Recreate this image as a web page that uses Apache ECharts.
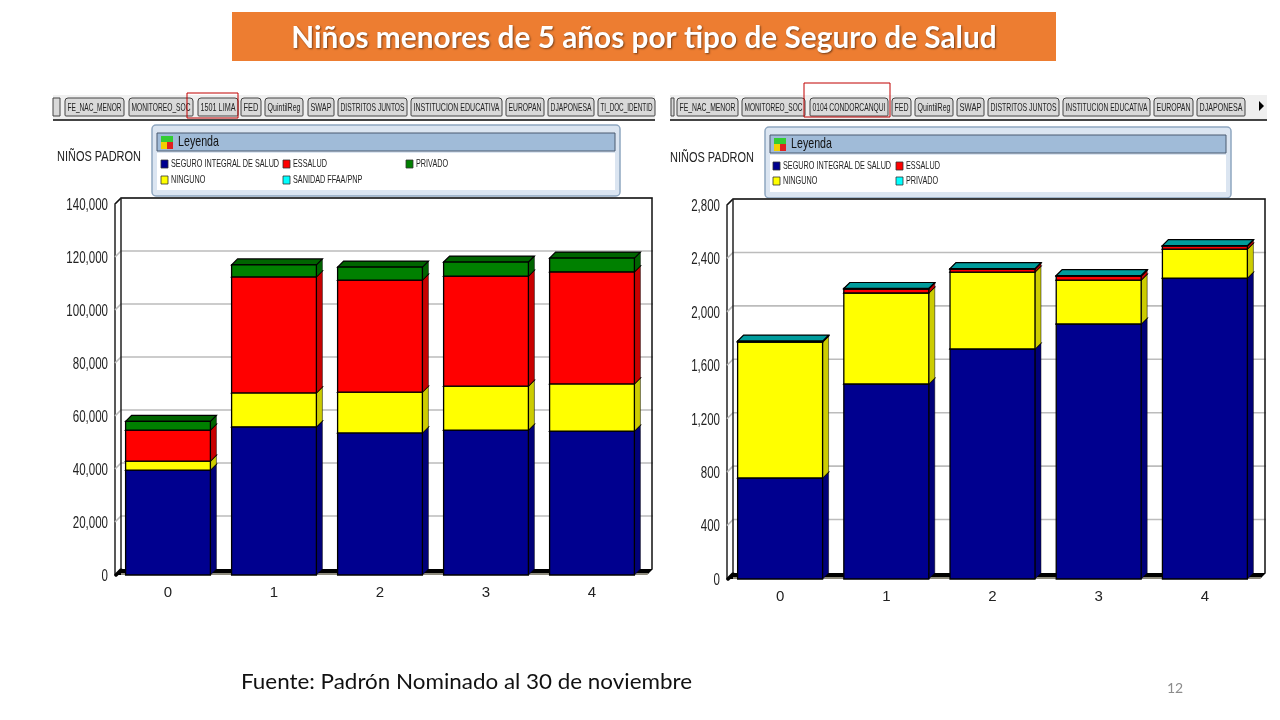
<!DOCTYPE html>
<html>
<head>
<meta charset="utf-8">
<title>Niños menores de 5 años por tipo de Seguro de Salud</title>
<script src="https://cdn.jsdelivr.net/npm/echarts@6/dist/echarts.min.js"></script>
<style>
  html, body { margin: 0; padding: 0; background: #fff; }
  #chart { width: 1280px; height: 720px; }
</style>
</head>
<body>
<div id="chart"></div>
<script>
// edades, eje x de los dos graficos
const ages = ['0', '1', '2', '3', '4'];

// 1501 LIMA
const limaSis = [39600, 55900, 53600, 54700, 54300];
const limaNinguno = [3400, 12800, 15400, 16600, 17800];
const limaEssalud = [11700, 43800, 42300, 41500, 42300];
const limaPrivado = [3300, 4500, 4900, 5300, 5200];
const limaTicks = [0, 20000, 40000, 60000, 80000, 100000, 120000, 140000];

// 0104 CONDORCANQUI
const condSis = [756, 1460, 1722, 1909, 2253];
const condNinguno = [1018, 681, 576, 329, 217];
const condEssalud = [4, 30, 22, 30, 22];
const condPrivado = [3, 4, 4, 4, 4];
const condTicks = [0, 400, 800, 1200, 1600, 2000, 2400, 2800];

const tabsLima = ['FE_NAC_MENOR', 'MONITOREO_SOC', '1501 LIMA', 'FED', 'QuintilReg', 'SWAP', 'DISTRITOS JUNTOS', 'INSTITUCION EDUCATIVA', 'EUROPAN', 'DJAPONESA', 'TI_DOC_IDENTID'];
const tabsCond = ['FE_NAC_MENOR', 'MONITOREO_SOC', '0104 CONDORCANQUI', 'FED', 'QuintilReg', 'SWAP', 'DISTRITOS JUNTOS', 'INSTITUCION EDUCATIVA', 'EUROPAN', 'DJAPONESA'];

const SANS = '"Liberation Sans", sans-serif';
const DEPTH = 6;

// colores: frente, lado, tapa
const BLUE = ['#00008f', '#000078', '#000078'];
const YELLOW = ['#ffff00', '#cccc00', '#cccc00'];
const RED = ['#ff0000', '#c80000', '#c80000'];
const GREEN = ['#008000', '#006400', '#006400'];
const CYAN = ['#00ffff', '#009c9c', '#009c9c'];

// la captura original tiene letra angosta: se mide y se comprime en x
const measureCtx = document.createElement('canvas').getContext('2d');
function fitText(text, font, x, y, targetWidth, extra) {
  measureCtx.font = font;
  const scale = targetWidth / measureCtx.measureText(text).width;
  return {
    type: 'text',
    x: x,
    y: y,
    scaleX: scale,
    style: Object.assign({ text: text, font: font, fill: '#222', verticalAlign: 'middle' }, extra || {})
  };
}

function poly(points, fill, width) {
  return {
    type: 'polygon',
    shape: { points: points },
    style: { fill: fill, stroke: '#000', lineWidth: width }
  };
}

function renderSegment(colors) {
  return function (params, api) {
    const cat = api.value(0);
    const bottom = api.coord([cat, api.value(1)]);
    const top = api.coord([cat, api.value(2)]);
    const w = api.size([1, 0])[0] * 0.8;
    const x0 = bottom[0] - w / 2;
    const x1 = bottom[0] + w / 2;
    const y0 = bottom[1];
    const y1 = top[1];
    return {
      type: 'group',
      children: [
        poly([[x1, y0], [x1 + DEPTH, y0 - DEPTH], [x1 + DEPTH, y1 - DEPTH], [x1, y1]], colors[1], 0.5),
        poly([[x0, y1], [x0 + DEPTH, y1 - DEPTH], [x1 + DEPTH, y1 - DEPTH], [x1, y1]], colors[2], 1.2),
        poly([[x0, y0], [x1, y0], [x1, y1], [x0, y1]], colors[0], 1.3)
      ]
    };
  };
}

// pared del fondo: lineas de la grilla, piso, marco y rotulos del eje y
function renderWall(params, api, maxValue) {
  const v = api.value(0);
  const cs = params.coordSys;
  const left = cs.x;
  const right = cs.x + cs.width;
  const y = api.coord([0, v])[1];
  const backX = right + 7;
  const children = [];
  if (v === 0) {
    children.push({
      type: 'polygon',
      shape: { points: [[left, y], [left + DEPTH, y - DEPTH], [backX + 1, y - DEPTH], [backX - DEPTH + 1, y]] },
      style: { fill: '#000' }
    });
    children.push({
      type: 'line',
      shape: { x1: left + 6, y1: y - 1, x2: backX - 4, y2: y - 1 },
      style: { stroke: '#bdb9a6', lineWidth: 1.5 }
    });
    children.push({
      type: 'line',
      shape: { x1: left + 1, y1: y, x2: left + DEPTH, y2: y - DEPTH + 1 },
      style: { stroke: '#000', lineWidth: 3.5, lineCap: 'round' }
    });
  } else {
    children.push({
      type: 'polyline',
      shape: { points: [[left, y], [left + DEPTH, y - DEPTH], [backX + 1, y - DEPTH]] },
      style: { stroke: '#bcbcbc', lineWidth: 1.6, fill: 'none' }
    });
  }
  if (v === maxValue) {
    children.push({
      type: 'polyline',
      shape: { points: [[left, y], [left + DEPTH, y - DEPTH], [backX, y - DEPTH], [backX, cs.y + cs.height - DEPTH]] },
      style: { stroke: '#111', lineWidth: 1.5, fill: 'none' }
    });
    children.push({
      type: 'line',
      shape: { x1: left + DEPTH, y1: y - DEPTH, x2: left + DEPTH, y2: cs.y + cs.height - DEPTH },
      style: { stroke: '#222', lineWidth: 1.5 }
    });
  }
  children.push({
    type: 'text',
    x: left - 7,
    y: y + 1.5,
    scaleX: 0.72,
    style: { text: v.toLocaleString('en-US'), font: '16px ' + SANS, fill: '#222', align: 'right', verticalAlign: 'middle' }
  });
  return { type: 'group', children: children };
}

function wallSeries(ticks, idx) {
  const maxValue = ticks[ticks.length - 1];
  return {
    type: 'custom',
    name: 'grid' + idx,
    xAxisIndex: idx,
    yAxisIndex: idx,
    z: 1,
    silent: true,
    clip: false,
    renderItem: function (params, api) { return renderWall(params, api, maxValue); },
    encode: { y: 0 },
    data: ticks.map(function (t) { return [t]; })
  };
}

// apila una lista de series y arma los tramos [categoria, base, tope]
function stackedSeries(list, idx) {
  const running = ages.map(function () { return 0; });
  return list.map(function (item) {
    const rows = item.values.map(function (val, i) {
      const base = running[i];
      running[i] = base + val;
      return [i, base, running[i]];
    });
    return {
      type: 'custom',
      name: item.name,
      xAxisIndex: idx,
      yAxisIndex: idx,
      z: 3,
      clip: false,
      renderItem: renderSegment(item.colors),
      encode: { x: 0, y: [1, 2] },
      data: rows
    };
  });
}

function tabStrip(labels, edges, yTop) {
  const out = [];
  labels.forEach(function (label, i) {
    const x0 = edges[i][0];
    const x1 = edges[i][1];
    out.push({
      type: 'rect',
      shape: { x: x0, y: yTop, width: x1 - x0, height: 18, r: [3, 3, 1, 1] },
      style: { fill: '#d9d9d9', stroke: '#444', lineWidth: 1 }
    });
    out.push(fitText(label, '11px ' + SANS, x0 + 2.5, yTop + 10, x1 - x0 - 5));
  });
  return out;
}

function legendPanel(x, y, w, h, items) {
  const out = [
    { type: 'rect', shape: { x: x, y: y, width: w, height: h, r: 4 }, style: { fill: '#dbe5f1', stroke: '#8ea6c0', lineWidth: 1.5 } },
    { type: 'rect', shape: { x: x + 5, y: y + 8, width: w - 10, height: 18 }, style: { fill: '#a0bbd8', stroke: '#4a5a70', lineWidth: 1 } },
    { type: 'rect', shape: { x: x + 5, y: y + 28, width: w - 10, height: 37 }, style: { fill: '#fff' } },
    { type: 'rect', shape: { x: x + 9, y: y + 11, width: 6, height: 6 }, style: { fill: '#33cc33' } },
    { type: 'rect', shape: { x: x + 15, y: y + 11, width: 6, height: 6 }, style: { fill: '#33cc33' } },
    { type: 'rect', shape: { x: x + 9, y: y + 17, width: 6, height: 7 }, style: { fill: '#f2d000' } },
    { type: 'rect', shape: { x: x + 15, y: y + 17, width: 6, height: 7 }, style: { fill: '#e02020' } },
    fitText('Leyenda', '15px ' + SANS, x + 26, y + 17, 41, { fill: '#111' })
  ];
  items.forEach(function (it) {
    out.push({ type: 'rect', shape: { x: it[1], y: it[2] - 4, width: 7, height: 8 }, style: { fill: it[3], stroke: '#333', lineWidth: 0.8 } });
    out.push({
      type: 'text',
      x: it[1] + 10,
      y: it[2],
      scaleX: 0.66,
      style: { text: it[0], fill: '#222', font: '11px ' + SANS, verticalAlign: 'middle' }
    });
  });
  return out;
}

const tabEdgesLima = [[65, 124], [129, 193], [198, 238], [241, 261], [265, 303], [308, 334], [338, 407], [411, 502], [506, 544], [548, 594], [598, 655]];
const tabEdgesCond = [[677, 738], [742, 805], [810, 888], [892, 911], [915, 953], [957, 984], [988, 1059], [1063, 1150], [1154, 1193], [1197, 1245]];

const graphicItems = [].concat(
  [
    { type: 'rect', shape: { x: 232, y: 12, width: 824, height: 49 }, style: { fill: '#ed7d31' } },
    { type: 'rect', shape: { x: 53, y: 95, width: 602, height: 24 }, style: { fill: '#efefef' } },
    { type: 'rect', shape: { x: 53, y: 119, width: 602, height: 2 }, style: { fill: '#444' } },
    { type: 'rect', shape: { x: 670, y: 95, width: 597, height: 24 }, style: { fill: '#efefef' } },
    { type: 'rect', shape: { x: 670, y: 119, width: 597, height: 2 }, style: { fill: '#444' } },
    { type: 'rect', shape: { x: 53, y: 98, width: 7, height: 18 }, style: { fill: '#d9d9d9', stroke: '#444', lineWidth: 1 } },
    { type: 'rect', shape: { x: 671, y: 98, width: 3, height: 18 }, style: { fill: '#d9d9d9', stroke: '#444', lineWidth: 1 } },
    { type: 'polygon', shape: { points: [[1259, 101], [1264, 106], [1259, 111]] }, style: { fill: '#000' } }
  ],
  tabStrip(tabsLima, tabEdgesLima, 98),
  tabStrip(tabsCond, tabEdgesCond, 98),
  [
    { type: 'rect', shape: { x: 187, y: 93, width: 51, height: 25 }, style: { fill: 'none', stroke: '#c00000', lineWidth: 1 } },
    { type: 'rect', shape: { x: 804, y: 83, width: 86, height: 34 }, style: { fill: 'none', stroke: '#c00000', lineWidth: 1 } },
    fitText('NIÑOS PADRON', '15px ' + SANS, 57, 157, 84),
    fitText('NIÑOS PADRON', '15px ' + SANS, 670, 158, 84),
    fitText('Fuente: Padrón Nominado al 30 de noviembre', '22px Lato', 241, 682, 451, { fill: '#111' })
  ],
  legendPanel(152, 125, 468, 71, [
    ['SEGURO INTEGRAL DE SALUD', 161, 164, BLUE[0]],
    ['ESSALUD', 283, 164, RED[0]],
    ['PRIVADO', 406, 164, GREEN[0]],
    ['NINGUNO', 161, 180, YELLOW[0]],
    ['SANIDAD FFAA/PNP', 283, 180, CYAN[0]]
  ]),
  legendPanel(765, 127, 466, 71, [
    ['SEGURO INTEGRAL DE SALUD', 773, 166, BLUE[0]],
    ['ESSALUD', 896, 166, RED[0]],
    ['NINGUNO', 773, 181, YELLOW[0]],
    ['PRIVADO', 896, 181, CYAN[0]]
  ])
);

function xAxisFor(idx) {
  return {
    type: 'category',
    gridIndex: idx,
    data: ages,
    axisTick: { show: false },
    axisLine: { show: false },
    axisLabel: { color: '#222', fontFamily: SANS, fontSize: 15, margin: 10 }
  };
}

function yAxisFor(idx, ticks) {
  return {
    type: 'value',
    gridIndex: idx,
    min: 0,
    max: ticks[ticks.length - 1],
    interval: ticks[1],
    axisLine: { show: true, lineStyle: { color: '#222', width: 1.5 } },
    axisTick: { show: false },
    splitLine: { show: false },
    axisLabel: { show: false }
  };
}

const chart = echarts.init(document.getElementById('chart'));
chart.setOption({
  animation: false,
  backgroundColor: '#fff',
  title: [
    {
      text: 'Niños menores de 5 años por tipo de Seguro de Salud',
      left: 639, top: 33, textAlign: 'center', textVerticalAlign: 'middle',
      textStyle: { color: '#fff', fontFamily: 'Lato', fontWeight: 'bold', fontSize: 29.8, textShadowColor: 'rgba(0,0,0,0.5)', textShadowBlur: 2, textShadowOffsetX: 1, textShadowOffsetY: 1 }
    },
    {
      text: '12',
      left: 1162, top: 676,
      textStyle: { color: '#8c8c8c', fontFamily: 'Lato', fontWeight: 'normal', fontSize: 14 }
    }
  ],
  graphic: { elements: graphicItems },
  grid: [
    { left: 115, top: 204, width: 530, height: 371 },
    { left: 727, top: 205, width: 531, height: 374 }
  ],
  xAxis: [xAxisFor(0), xAxisFor(1)],
  yAxis: [yAxisFor(0, limaTicks), yAxisFor(1, condTicks)],
  series: [
    wallSeries(limaTicks, 0),
    wallSeries(condTicks, 1)
  ].concat(
    stackedSeries([
      { name: 'SEGURO INTEGRAL DE SALUD', values: limaSis, colors: BLUE },
      { name: 'NINGUNO', values: limaNinguno, colors: YELLOW },
      { name: 'ESSALUD', values: limaEssalud, colors: RED },
      { name: 'PRIVADO', values: limaPrivado, colors: GREEN }
    ], 0),
    stackedSeries([
      { name: 'SEGURO INTEGRAL DE SALUD', values: condSis, colors: BLUE },
      { name: 'NINGUNO', values: condNinguno, colors: YELLOW },
      { name: 'ESSALUD', values: condEssalud, colors: RED },
      { name: 'PRIVADO', values: condPrivado, colors: CYAN }
    ], 1)
  )
});
</script>
</body>
</html>
